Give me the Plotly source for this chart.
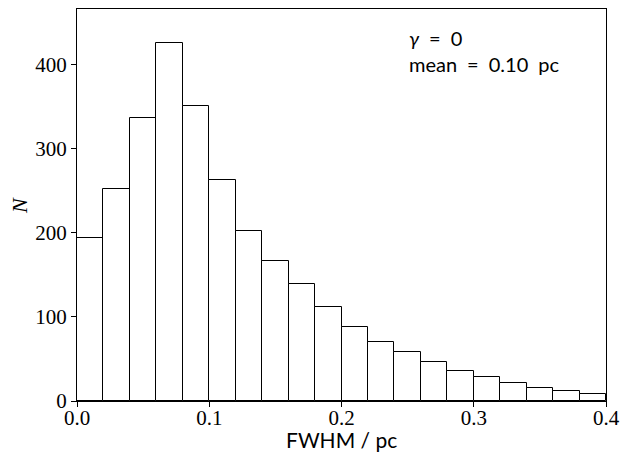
import plotly.graph_objects as go

bin_edges = [0.00, 0.02, 0.04, 0.06, 0.08, 0.10, 0.12, 0.14, 0.16, 0.18, 0.20,
             0.22, 0.24, 0.26, 0.28, 0.30, 0.32, 0.34, 0.36, 0.38, 0.40]
counts = [194, 252, 336, 425, 351, 263, 202, 167, 139, 112,
          88, 70, 58, 46, 36, 28, 21, 15, 12, 8]
x_ticks = [0.0, 0.1, 0.2, 0.3, 0.4]
y_ticks = [0, 100, 200, 300, 400]

centers = [(a + b) / 2 for a, b in zip(bin_edges[:-1], bin_edges[1:])]
widths = [b - a for a, b in zip(bin_edges[:-1], bin_edges[1:])]

fig = go.Figure(go.Bar(
    x=centers, y=counts, width=widths,
    marker=dict(color="white", line=dict(color="black", width=1)),
    showlegend=False,
))

serif = "Liberation Serif, DejaVu Serif, serif"
sans = "Lato, Open Sans, sans-serif"

W, H = 622, 458
L, R, T, B = 77, 16, 9, 57
pw, ph = W - L - R, H - T - B


def px(x, y):
    """pixel -> paper coords"""
    return (x - L) / pw, (H - B - y) / ph


ax_t = px(341, 439)
ay_t = px(19, 206)
g_t = px(407, 38)
m_t = px(407, 64)
sp = "\u2002"

fig.update_layout(
    width=W, height=H,
    margin=dict(l=L, r=R, t=T, b=B),
    plot_bgcolor="white", paper_bgcolor="white",
    bargap=0,
    xaxis=dict(
        range=[0, 0.4], tickvals=x_ticks, ticktext=[f"{v:.1f}" for v in x_ticks],
        ticks="outside", ticklen=5, tickwidth=1, tickcolor="black",
        showline=True, linecolor="black", linewidth=1, mirror=True,
        showgrid=False, zeroline=False, automargin=False, ticklabelstandoff=-7,
        ticklabeloverflow="allow",
        tickfont=dict(family=serif, size=21, color="black"),
    ),
    yaxis=dict(
        range=[0, 466], tickvals=y_ticks, ticktext=[str(v) for v in y_ticks],
        ticks="outside", ticklen=5, tickwidth=1, tickcolor="black",
        showline=True, linecolor="black", linewidth=1, mirror=True,
        showgrid=False, zeroline=False, automargin=False,
        tickfont=dict(family=serif, size=21, color="black"),
    ),
    annotations=[
        dict(x=ax_t[0], y=ax_t[1], xref="paper", yref="paper", xanchor="center", yanchor="middle",
             text="FWHM / pc", showarrow=False,
             font=dict(family=sans, size=21, color="black")),
        dict(x=ay_t[0], y=ay_t[1], xref="paper", yref="paper", xanchor="center", yanchor="middle",
             text="<i>N</i>", showarrow=False, textangle=-90,
             font=dict(family=serif, size=22, color="black")),
        dict(x=g_t[0], y=g_t[1], xref="paper", yref="paper", xanchor="left", yanchor="middle",
             text=f"<i>γ</i>{sp}={sp}0", showarrow=False,
             font=dict(family=sans, size=20, color="black")),
        dict(x=m_t[0], y=m_t[1], xref="paper", yref="paper", xanchor="left", yanchor="middle",
             text=f"mean{sp}={sp}0.10{sp}pc", showarrow=False,
             font=dict(family=sans, size=20, color="black")),
    ],
)

fig.write_html("out.html", config={"displayModeBar": False},
               post_script="document.body.style.margin='0px';")
